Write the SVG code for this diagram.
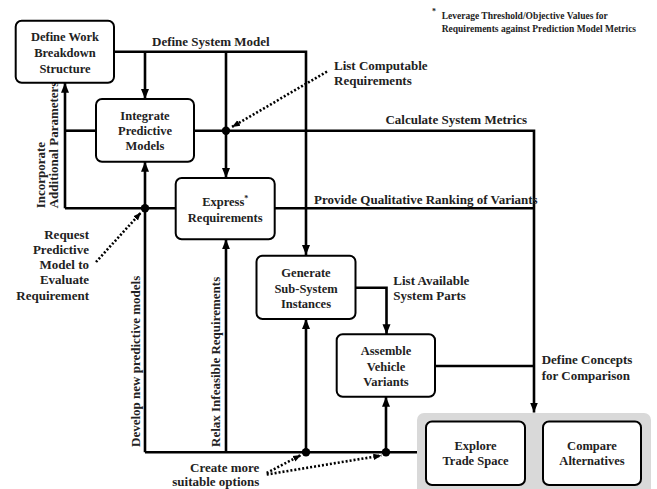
<svg xmlns="http://www.w3.org/2000/svg" width="657" height="489" viewBox="0 0 657 489">
<style>
text{font-family:"Liberation Serif","DejaVu Serif",serif;font-weight:bold;fill:#222;font-size:13px}
.bt{font-size:12.5px;text-anchor:middle}
.fn{font-size:9.5px}
.box{fill:#fff;stroke:#000;stroke-width:2}
.ln{fill:none;stroke:#000;stroke-width:2.6}
.dot{fill:none;stroke:#000;stroke-width:2.6;stroke-dasharray:2 2}
.end{text-anchor:end}
</style>
<defs>
<marker id="ah" markerUnits="userSpaceOnUse" markerWidth="10" markerHeight="10" viewBox="0 0 10 10" refX="10" refY="5" orient="auto">
<path d="M0,1 L10,5 L0,9 Z" fill="#000"/>
</marker>
<marker id="ahs" markerUnits="userSpaceOnUse" markerWidth="8" markerHeight="8" viewBox="0 0 10 10" refX="10" refY="5" orient="auto">
<path d="M0,1 L10,5 L0,9 Z" fill="#000"/>
</marker>
</defs>
<rect width="657" height="489" fill="#fff"/>

<g id="footnote">
<text class="fn" x="432" y="14" style="font-size:8px">*</text>
<text class="fn" x="441.7" y="19">Leverage Threshold/Objective Values for</text>
<text class="fn" x="441.7" y="31.5">Requirements against Prediction Model Metrics</text>
</g>

<g id="connectors">
<!-- Define System Model -->
<path class="ln" d="M114,51.7 H306 V255" marker-end="url(#ah)"/>
<path class="ln" d="M145,51.7 V99" marker-end="url(#ah)"/>
<path class="ln" d="M226,51.7 V178" marker-end="url(#ah)"/>
<!-- Calculate System Metrics line -->
<path class="ln" d="M96,130.7 H65"/>
<path class="ln" d="M194,130.7 H534 V412.5" marker-end="url(#ah)"/>
<!-- Incorporate Additional Parameters -->
<path class="ln" d="M65,208.3 V82.7" marker-end="url(#ah)"/>
<path class="ln" d="M65,208.3 H175.7"/>
<!-- Provide Qualitative Ranking -->
<path class="ln" d="M274.7,208.3 H534"/>
<!-- Develop new predictive models -->
<path class="ln" d="M145,452.3 V161.7" marker-end="url(#ah)"/>
<path class="ln" d="M145,452.3 H417"/>
<!-- Relax Infeasible Requirements -->
<path class="ln" d="M226,452.3 V239.3" marker-end="url(#ah)"/>
<path class="ln" d="M306,452.3 V319" marker-end="url(#ah)"/>
<path class="ln" d="M386,452.3 V396.7" marker-end="url(#ah)"/>
<!-- List Available System Parts -->
<path class="ln" d="M355,287.7 H386.5 V334.3" marker-end="url(#ah)"/>
<!-- Define Concepts -->
<path class="ln" d="M435,366 H534"/>
<!-- junction dots -->
<circle cx="226" cy="130.7" r="4.2" fill="#000"/>
<circle cx="145" cy="208.3" r="4.2" fill="#000"/>
<circle cx="306" cy="452.3" r="4.2" fill="#000"/>
<circle cx="386" cy="452.3" r="4.2" fill="#000"/>
<!-- dotted annotation arrows -->
<path class="dot" d="M327,71.5 L232,127" marker-end="url(#ahs)"/>
<path class="dot" d="M96,262 L141,212.5" marker-end="url(#ahs)"/>
<path class="dot" d="M266.7,473 L301,455" marker-end="url(#ahs)"/>
<path class="dot" d="M266.7,474.5 L381.5,455.5" marker-end="url(#ahs)"/>
<!-- connector labels -->
<text x="152" y="46">Define System Model</text>
<text x="334" y="69.5">List Computable</text>
<text x="334" y="84.5">Requirements</text>
<text class="end" x="527" y="124">Calculate System Metrics</text>
<text x="314" y="204">Provide Qualitative Ranking of Variants</text>
<text transform="translate(44.5,208.3) rotate(-90)">Incorporate</text>
<text transform="translate(58,208.3) rotate(-90)">Additional Parameters</text>
<text class="end" x="89" y="238.5">Request</text>
<text class="end" x="89" y="253.8">Predictive</text>
<text class="end" x="89" y="268.8">Model to</text>
<text class="end" x="89" y="283.8">Evaluate</text>
<text class="end" x="89" y="299.5">Requirement</text>
<text transform="translate(139.5,447) rotate(-90)">Develop new predictive models</text>
<text transform="translate(219.5,447) rotate(-90)">Relax Infeasible Requirements</text>
<text x="393.3" y="285">List Available</text>
<text x="393.3" y="299.5">System Parts</text>
<text x="541.7" y="364">Define Concepts</text>
<text x="541.7" y="379.5">for Comparison</text>
<text class="end" x="259.3" y="472">Create more</text>
<text class="end" x="259.3" y="485.5">suitable options</text>
</g>

<g id="wbs">
<rect class="box" x="15.7" y="20.7" width="98.3" height="62" rx="6"/>
<text class="bt" x="65" y="41">Define Work</text>
<text class="bt" x="65" y="56.6">Breakdown</text>
<text class="bt" x="65" y="72.6">Structure</text>
</g>

<g id="integrate">
<rect class="box" x="96" y="99" width="98" height="62.7" rx="6"/>
<text class="bt" x="145" y="120">Integrate</text>
<text class="bt" x="145" y="135">Predictive</text>
<text class="bt" x="145" y="150.3">Models</text>
</g>

<g id="express">
<rect class="box" x="175.7" y="178" width="99" height="61.3" rx="6"/>
<text class="bt" x="225.2" y="206">Express<tspan dy="-5" style="font-size:8px">*</tspan></text>
<text class="bt" x="225.2" y="221.6">Requirements</text>
</g>

<g id="generate">
<rect class="box" x="256.5" y="255.7" width="99" height="63.3" rx="6"/>
<text class="bt" x="306" y="276.6">Generate</text>
<text class="bt" x="306" y="292.6">Sub-System</text>
<text class="bt" x="306" y="307.6">Instances</text>
</g>

<g id="assemble">
<rect class="box" x="336.7" y="334.3" width="98.3" height="62.4" rx="6"/>
<text class="bt" x="386" y="355.3">Assemble</text>
<text class="bt" x="386" y="371">Vehicle</text>
<text class="bt" x="386" y="386">Variants</text>
</g>

<g id="tradespace">
<rect x="417" y="413" width="234" height="90" rx="7" fill="#d9d9d9"/>
</g>

<g id="explore">
<rect class="box" x="426" y="421.5" width="99" height="63.5" rx="6"/>
<text class="bt" x="475.5" y="450">Explore</text>
<text class="bt" x="475.5" y="465.3">Trade Space</text>
</g>

<g id="compare">
<rect class="box" x="543" y="421.5" width="98" height="63.5" rx="6"/>
<text class="bt" x="592" y="450">Compare</text>
<text class="bt" x="592" y="465.3">Alternatives</text>
</g>
</svg>
